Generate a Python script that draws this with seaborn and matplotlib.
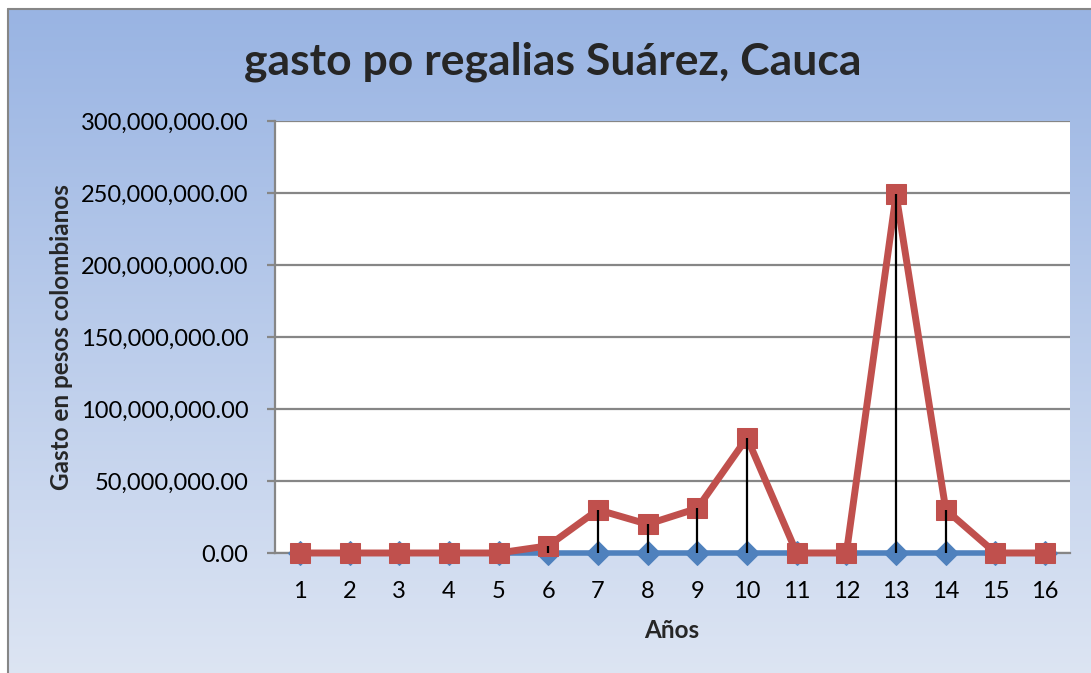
import numpy as np
import pandas as pd
import matplotlib
matplotlib.use("Agg")
import matplotlib.pyplot as plt
import seaborn as sns
from matplotlib.ticker import FuncFormatter, MultipleLocator

# Datos del gasto por año (pesos colombianos)
anios = list(range(1, 17))
serie1 = [0, 0, 0, 0, 0, 0, 0, 0, 0, 0, 0, 0, 0, 0, 0, 0]
serie2 = [0, 0, 0, 0, 0, 5e6, 30e6, 20e6, 31e6, 80e6, 0, 0, 249e6, 30e6, 0, 0]
nombres = ["Serie1", "Serie2"]

titulo = "gasto po regalias Suárez, Cauca"
etiqueta_x = "Años"
etiqueta_y = "Gasto en pesos colombianos"

AZUL = "#4F81BD"
ROJO = "#C0504D"
GRIS = "#868686"

sns.set_theme(style="white")
plt.rcParams["font.family"] = ["Lato", "DejaVu Sans"]

W, H = 1091, 673
fig = plt.figure(figsize=(W / 100, H / 100), dpi=100)
fig.patch.set_facecolor("white")

# Fondo degradado del área del gráfico
bg = fig.add_axes([0, 0, 1, 1], zorder=-5)
bg.set_xlim(0, W)
bg.set_ylim(H, 0)
bg.axis("off")
top_c = np.array([0x99, 0xB4, 0xE3]) / 255
bot_c = np.array([0xDD, 0xE5, 0xF3]) / 255
t = np.linspace(0, 1, 256)[:, None]
grad = (top_c[None, :] * (1 - t) + bot_c[None, :] * t)[:, None, :]
bg.imshow(grad, extent=[8, W + 5, H + 5, 9], aspect="auto", interpolation="bilinear")
bg.plot([8, 8], [9, H + 5], color=GRIS, lw=1.5)
bg.plot([8, W + 5], [9, 9], color=GRIS, lw=1.5)

ax = fig.add_axes([275 / W, 1 - 553 / H, (1070 - 275) / W, (553 - 121) / H])
ax.set_facecolor("white")

df = pd.DataFrame({
    "anio": anios * 2,
    "valor": serie1 + serie2,
    "serie": [nombres[0]] * len(anios) + [nombres[1]] * len(anios),
})

sns.lineplot(data=df[df.serie == nombres[0]], x="anio", y="valor", ax=ax,
             color=AZUL, lw=4.0, marker="D", markersize=12,
             markeredgecolor=AZUL, legend=False, zorder=3, clip_on=False)
sns.lineplot(data=df[df.serie == nombres[1]], x="anio", y="valor", ax=ax,
             color=ROJO, lw=5.0, marker="s", markersize=15,
             markeredgecolor=ROJO, legend=False, zorder=4, clip_on=False)

# Líneas de máximos y mínimos entre ambas series
ax.vlines(anios, np.minimum(serie1, serie2), np.maximum(serie1, serie2),
          color="black", lw=1.6, zorder=5)

ax.set_xlim(0.5, 16.5)
ax.set_ylim(0, 300e6)
ax.set_xticks(anios)
ax.yaxis.set_major_locator(MultipleLocator(50e6))
ax.yaxis.set_major_formatter(FuncFormatter(lambda v, p: f"{v:,.2f}"))
ax.grid(axis="y", color=GRIS, lw=1.6)
ax.grid(axis="x", visible=False)
ax.set_axisbelow(True)

for s in ["top", "right"]:
    ax.spines[s].set_visible(False)
ax.spines["left"].set_color(GRIS)
ax.spines["left"].set_linewidth(1.6)
ax.spines["bottom"].set_color(GRIS)
ax.spines["bottom"].set_linewidth(1.6)

ax.tick_params(axis="y", which="major", left=True, length=6, width=1.6,
               color=GRIS, pad=13, labelsize=17, labelcolor="black")
ax.tick_params(axis="x", which="major", bottom=False, length=0, pad=20,
               labelsize=17, labelcolor="black")

ax.set_xlabel(etiqueta_x, fontsize=17.5, fontweight="bold")
ax.set_ylabel(etiqueta_y, fontsize=17.5, fontweight="bold")
ax.xaxis.set_label_coords((672 - 275) / (1070 - 275), -(630 - 553) / (553 - 121))
ax.yaxis.set_label_coords(-(275 - 62) / (1070 - 275), 0.5)
ax.xaxis.label.set_va("center")
ax.yaxis.label.set_va("center")

fig.text(553 / W, 1 - 62 / H, titulo, ha="center", va="center",
         fontsize=32, fontweight="bold")

fig.savefig("out.png", dpi=100)
